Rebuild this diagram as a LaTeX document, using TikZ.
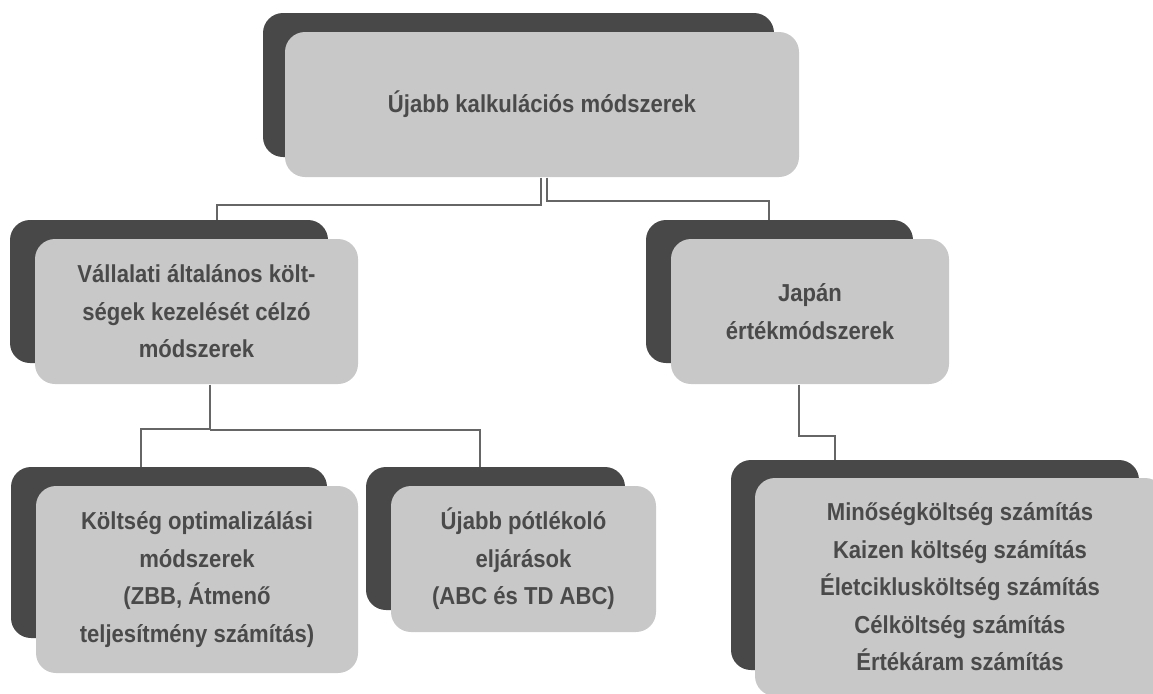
\documentclass[tikz,border=0pt]{standalone}
\usepackage{fontspec}
\setmainfont{Liberation Sans}[FakeStretch=0.9]
\usetikzlibrary{calc}

\definecolor{backgray}{HTML}{484848}
\definecolor{frontgray}{HTML}{C8C8C8}
\definecolor{textgray}{HTML}{4A4A4A}
\definecolor{linegray}{HTML}{666666}

\tikzset{every picture/.style={line width=0.75pt}}
\tikzset{
  backbox/.style={fill=backgray, rounded corners=15pt, inner sep=0pt},
  frontbox/.style={fill=frontgray, rounded corners=15pt, inner sep=0pt, text=textgray, align=center, font=\fontsize{18.4}{28.1}\selectfont\bfseries},
  conn/.style={draw=linegray, line width=1.5pt}
}

\begin{document}
\begin{tikzpicture}[x=0.75pt,y=0.75pt,yscale=-1,xscale=1]
%set diagram left start at 0, and has height of 693
\useasboundingbox (0,0) rectangle (1153,693);
\clip (0,0) rectangle (1153,693);

%Shape: Rounded Rectangle [top]
\node [backbox, minimum width=383.25pt, minimum height=108pt] (topback) at (518.5,85) {};
\node [frontbox, minimum width=385.5pt, minimum height=108.75pt] (top) at (542,104.5) {Újabb kalkulációs módszerek};

%Shape: Rounded Rectangle [left middle]
\node [backbox, minimum width=238.5pt, minimum height=107.25pt] (overheadback) at (169,291.5) {};
\node [frontbox, minimum width=242.25pt, minimum height=108.75pt] (overhead) at (196.5,311.5) {Vállalati általános költ-\\ségek kezelését célzó\\módszerek};

%Shape: Rounded Rectangle [right middle]
\node [backbox, minimum width=200.25pt, minimum height=107.25pt] (japanback) at (779.5,291.5) {};
\node [frontbox, minimum width=208.5pt, minimum height=108.75pt] (japan) at (810,311.5) {Japán\\értékmódszerek};

%Shape: Rounded Rectangle [bottom left]
\node [backbox, minimum width=237pt, minimum height=128.25pt] (optimback) at (169,552.5) {};
\node [frontbox, minimum width=241.5pt, minimum height=140.25pt] (optim) at (197,579.5) {Költség optimalizálási\\módszerek\\(ZBB, Átmenő\\teljesítmény számítás)};

%Shape: Rounded Rectangle [bottom middle]
\node [backbox, minimum width=194.25pt, minimum height=107.25pt] (abcback) at (495.5,538.5) {};
\node [frontbox, minimum width=198.75pt, minimum height=109.5pt] (abc) at (523.5,559) {Újabb pótlékoló\\eljárások\\(ABC és TD ABC)};

%Shape: Rounded Rectangle [bottom right]
\node [backbox, minimum width=306pt, minimum height=157.5pt] (costback) at (935,565) {};
\node [frontbox, minimum width=307.5pt, minimum height=163.5pt] (cost) at (960,587) {Minőségköltség számítás\\Kaizen költség számítás\\Életciklusköltség számítás\\Célköltség számítás\\Értékáram számítás};

%Straight Lines [connectors]
\draw [conn] ($(top.south)+(-1,0)$) |- ($(overheadback.north)+(48,-15)$) -- ($(overheadback.north)+(48,0)$);
\draw [conn] ($(top.south)+(5,0)$) |- ($(japanback.north)+(-10.5,-19)$) -- ($(japanback.north)+(-10.5,0)$);
\draw [conn] ($(overhead.south)+(13.5,0)$) |- ($(optimback.north)+(-28,-38)$) -- ($(optimback.north)+(-28,0)$);
\draw [conn] ($(overhead.south)+(13.5,45)$) -| ($(abcback.north)+(-15.5,0)$);
\draw [conn] ($(japan.south)+(-11,0)$) |- ($(costback.north)+(-100,-24)$) -- ($(costback.north)+(-100,0)$);

\end{tikzpicture}
\end{document}
